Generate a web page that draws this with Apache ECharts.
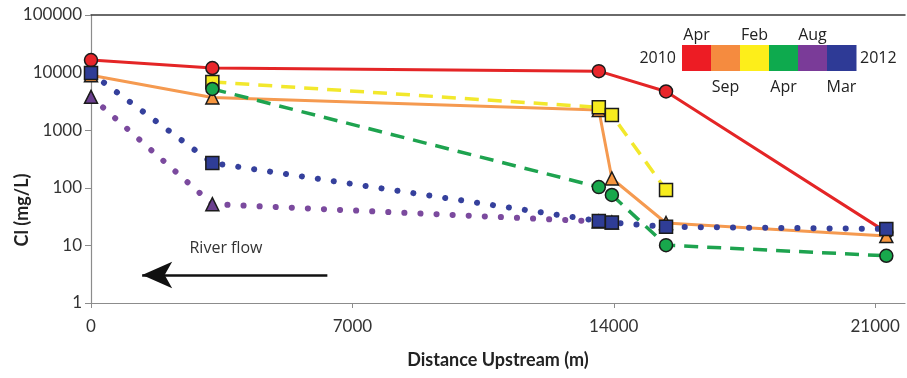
<!DOCTYPE html>
<html>
<head>
<meta charset="utf-8">
<script src="https://cdn.jsdelivr.net/npm/echarts@6/dist/echarts.min.js"></script>
<style>
  html, body { margin: 0; padding: 0; background: #fff; }
  #chart { width: 907px; height: 378px; }
</style>
</head>
<body>
<div id="chart"></div>
<script>
// Chloride concentration along the river, one series per sampling campaign
const campaigns = ['Apr 2010', 'Sep 2010', 'Feb 2011', 'Apr 2011', 'Aug 2011', 'Mar 2012'];

const distApr2010 = [0, 3250, 13600, 15400, 21300];
const clApr2010   = [16500, 12000, 10600, 4700, 17];

const distSep2010 = [0, 3250, 13600, 13950, 15400, 21300];
const clSep2010   = [9000, 3700, 2250, 145, 24.5, 14.5];

const distFeb2011 = [3250, 13600, 13950, 15400];
const clFeb2011   = [6900, 2500, 1830, 92];

const distApr2011 = [3250, 13600, 13950, 15400, 21300];
const clApr2011   = [5200, 103, 75, 10.1, 6.6];

const distAug2011 = [0, 3250, 13600, 13950];
const clAug2011   = [3800, 52, 26, 25];

const distMar2012 = [0, 3250, 13600, 13950, 15400, 21300];
const clMar2012   = [9800, 270, 26.5, 25, 21, 19.3];

const xTicks = [0, 7000, 14000, 21000];
const colorBarTop = ['Apr', '', 'Feb', '', 'Aug', ''];
const colorBarBottom = ['', 'Sep', '', 'Apr', '', 'Mar'];

const lineColors   = ['#e42526', '#f59a50', '#f2e82c', '#1ea34f', '#7b4a9e', '#35409c'];
const markerColors = ['#e8262b', '#f7963f', '#f7ec1e', '#18a84c', '#6b3f8f', '#2f3d96'];
const barColors    = ['#ed1c24', '#f58b3f', '#fdee1a', '#0eaa4e', '#7a3b98', '#2e3a96'];

const pairs = (xs, ys) => xs.map((x, i) => [x, ys[i]]);

const solid  = { type: 'solid', width: 3 };
const dashed = { type: [14, 9], width: 3.5 };
const dotted = { type: [0.1, 16], width: 6, cap: 'round' };

function campaign(idx, xs, ys, symbol, size, style) {
  return {
    name: campaigns[idx],
    type: 'line',
    data: pairs(xs, ys),
    symbol: symbol,
    symbolSize: size,
    showAllSymbol: true,
    z: 2 + idx,
    lineStyle: Object.assign({ color: lineColors[idx] }, style),
    itemStyle: { color: markerColors[idx], borderColor: '#1b1b1b', borderWidth: 1.5 },
    emphasis: { disabled: true },
    animation: false
  };
}

const chart = echarts.init(document.getElementById('chart'), null, { renderer: 'canvas' });

const textFont = 'Lato, "Open Sans", sans-serif';
const legendFont = '"Open Sans", Lato, sans-serif';

// Colour bar showing the sampling campaigns from 2010 to 2012
const barX = 682, barY = 45, cellW = 29, cellH = 26;
const legendGraphics = [];
barColors.forEach((c, i) => {
  legendGraphics.push({
    type: 'rect', left: barX + i * cellW, top: barY,
    shape: { width: cellW + 0.5, height: cellH },
    style: { fill: c }, silent: true
  });
  if (colorBarTop[i]) {
    legendGraphics.push({
      type: 'text', x: barX + i * cellW + cellW / 2, y: barY - 10,
      style: { text: colorBarTop[i], fill: '#222', font: '16px ' + legendFont, align: 'center', verticalAlign: 'middle' }
    });
  }
  if (colorBarBottom[i]) {
    legendGraphics.push({
      type: 'text', x: barX + i * cellW + cellW / 2, y: barY + cellH + 16,
      style: { text: colorBarBottom[i], fill: '#222', font: '16px ' + legendFont, align: 'center', verticalAlign: 'middle' }
    });
  }
});
legendGraphics.push({
  type: 'text', x: barX - 6, y: barY + cellH / 2,
  style: { text: '2010', fill: '#222', font: '16px ' + legendFont, align: 'right', verticalAlign: 'middle' }
});
legendGraphics.push({
  type: 'text', x: barX + 6 * cellW + 4, y: barY + cellH / 2,
  style: { text: '2012', fill: '#222', font: '16px ' + legendFont, align: 'left', verticalAlign: 'middle' }
});

const option = {
  backgroundColor: '#fff',
  animation: false,
  grid: { left: 91, right: 2, top: 15, bottom: 75, containLabel: false },
  xAxis: [{
    type: 'value',
    min: 0, max: 21800,
    name: 'Distance Upstream (m)',
    nameLocation: 'middle',
    nameGap: 48,
    nameTextStyle: { fontFamily: textFont, fontWeight: 'bold', fontSize: 18, color: '#222' },
    axisLine: { show: true, lineStyle: { color: '#8c8c8c', width: 1.2 } },
    axisTick: { show: true, length: 5, customValues: xTicks, lineStyle: { color: '#8c8c8c' } },
    axisLabel: { customValues: xTicks, margin: 15, fontFamily: textFont, fontSize: 17, color: '#333', formatter: v => String(v) },
    splitLine: { show: false }
  }, {
    type: 'value',
    position: 'top',
    min: 0, max: 21800,
    axisLine: { show: true, onZero: false, lineStyle: { color: '#3a3a3a', width: 1.5 } },
    axisTick: { show: false },
    axisLabel: { show: false },
    splitLine: { show: false }
  }],
  yAxis: {
    type: 'log',
    logBase: 10,
    min: 1, max: 100000,
    axisLine: { show: true, lineStyle: { color: '#8c8c8c', width: 1.2 } },
    axisTick: { show: true, length: 6, lineStyle: { color: '#8c8c8c' } },
    axisLabel: { margin: 9, fontFamily: textFont, fontSize: 17, color: '#333', formatter: v => String(Math.round(v)) },
    splitLine: { show: false },
    minorTick: { show: false }
  },
  graphic: [
    {
      type: 'text', x: 22, y: 210, rotation: Math.PI / 2,
      style: { text: 'Cl (mg/L)', fill: '#222', font: 'bold 18px ' + textFont, align: 'center', verticalAlign: 'middle' }
    },
    {
      type: 'text', x: 226, y: 248,
      style: { text: 'River flow', fill: '#333', font: '16px ' + legendFont, align: 'center', verticalAlign: 'middle' }
    }
  ].concat(legendGraphics),
  series: [
    campaign(0, distApr2010, clApr2010, 'circle', 13, solid),
    campaign(1, distSep2010, clSep2010, 'triangle', 13, solid),
    campaign(2, distFeb2011, clFeb2011, 'rect', 13, dashed),
    campaign(3, distApr2011, clApr2011, 'circle', 13, dashed),
    campaign(4, distAug2011, clAug2011, 'triangle', 13, dotted),
    campaign(5, distMar2012, clMar2012, 'rect', 13, dotted),
    {
      // downstream flow direction arrow
      name: 'flow',
      type: 'line',
      data: [],
      silent: true,
      markLine: {
        silent: true,
        symbol: ['none', 'arrow'],
        symbolSize: [20, 30],
        label: { show: false },
        lineStyle: { color: '#111', width: 2.5, type: 'solid' },
        data: [[{ coord: [6330, 3.06] }, { coord: [1370, 3.06] }]],
        animation: false
      }
    }
  ]
};

chart.setOption(option);
</script>
</body>
</html>
